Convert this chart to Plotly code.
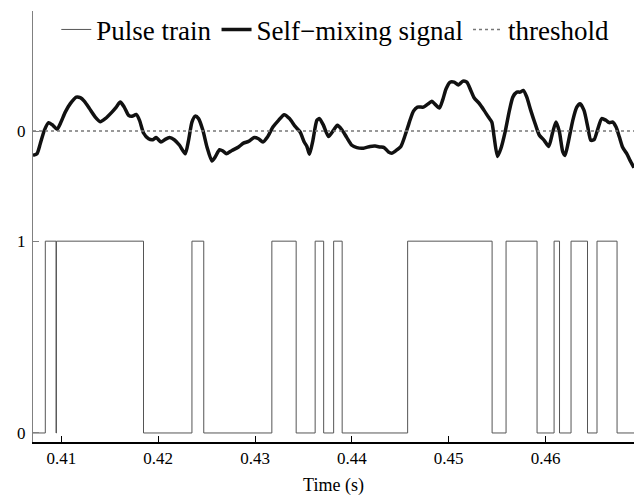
import plotly.graph_objects as go

# Pulse train: transition times (s) and level after each transition
pulse_t = [0.40708, 0.40835, 0.40946, 0.40950, 0.41849, 0.42349, 0.42471, 0.43174,
           0.43425, 0.43621, 0.43709, 0.43812, 0.43900, 0.44576, 0.45448, 0.45592,
           0.45912, 0.46088, 0.46144, 0.46263, 0.46433, 0.46531, 0.46738, 0.46913]
pulse_v = [0, 1, 0, 1, 0, 1, 0, 1, 0, 1, 0, 1, 0, 1, 0, 1, 0, 1, 0, 1, 0, 1, 0, 0]

# Self-mixing signal (time in s, amplitude relative to threshold)
sig_t = [0.40708, 0.40749, 0.40783, 0.40825, 0.40869, 0.40914, 0.40956, 0.40997,
         0.41041, 0.41093, 0.41155, 0.41196, 0.41237, 0.41292, 0.41351, 0.41402,
         0.41454, 0.41523, 0.41568, 0.41609, 0.41650, 0.41695, 0.41730, 0.41774,
         0.41808, 0.41849, 0.41901, 0.41946, 0.41980, 0.42029, 0.42073, 0.42118,
         0.42166, 0.42221, 0.42280, 0.42314, 0.42349, 0.42383, 0.42417, 0.42462,
         0.42504, 0.42555, 0.42589, 0.42634, 0.42669, 0.42703, 0.42762, 0.42830,
         0.42881, 0.42933, 0.42992, 0.43036, 0.43082, 0.43129, 0.43185, 0.43243,
         0.43301, 0.43356, 0.43415, 0.43466, 0.43508, 0.43536, 0.43562, 0.43598,
         0.43639, 0.43666, 0.43707, 0.43759, 0.43810, 0.43851, 0.43897, 0.43948,
         0.44000, 0.44052, 0.44120, 0.44189, 0.44240, 0.44292, 0.44333, 0.44378,
         0.44413, 0.44457, 0.44506, 0.44550, 0.44594, 0.44636, 0.44677, 0.44739,
         0.44780, 0.44826, 0.44860, 0.44904, 0.44939, 0.44973, 0.45014, 0.45056,
         0.45100, 0.45146, 0.45187, 0.45228, 0.45262, 0.45317, 0.45365, 0.45410,
         0.45445, 0.45469, 0.45503, 0.45538, 0.45582, 0.45627, 0.45662, 0.45703,
         0.45737, 0.45771, 0.45806, 0.45847, 0.45892, 0.45936, 0.45985, 0.46033,
         0.46074, 0.46108, 0.46143, 0.46178, 0.46201, 0.46235, 0.46281, 0.46322,
         0.46356, 0.46397, 0.46436, 0.46467, 0.46501, 0.46535, 0.46580, 0.46624,
         0.46658, 0.46694, 0.46728, 0.46762, 0.46797, 0.46838, 0.46872, 0.46913]
sig_v = [-0.127, -0.118, -0.066, 0.004, 0.044, 0.030, 0.009, 0.047,
         0.099, 0.143, 0.177, 0.174, 0.156, 0.117, 0.073, 0.049,
         0.065, 0.099, 0.125, 0.151, 0.125, 0.082, 0.077, 0.087,
         0.056, -0.010, -0.040, -0.045, -0.034, -0.057, -0.043, -0.034,
         -0.045, -0.074, -0.118, -0.048, 0.047, 0.078, 0.065, 0.004,
         -0.083, -0.156, -0.135, -0.097, -0.104, -0.118, -0.101, -0.083,
         -0.063, -0.054, -0.034, -0.040, -0.057, -0.031, 0.021, 0.056,
         0.085, 0.065, 0.024, -0.005, -0.057, -0.080, -0.121, -0.048,
         0.056, 0.065, 0.030, -0.028, 0.004, 0.030, 0.007, -0.034,
         -0.074, -0.086, -0.089, -0.080, -0.078, -0.083, -0.086, -0.109,
         -0.115, -0.101, -0.080, -0.022, 0.047, 0.104, 0.125, 0.125,
         0.139, 0.155, 0.139, 0.120, 0.164, 0.221, 0.255, 0.255,
         0.240, 0.260, 0.255, 0.212, 0.174, 0.143, 0.108, 0.073,
         0.047, -0.031, -0.132, -0.092, -0.005, 0.108, 0.177, 0.203,
         0.203, 0.212, 0.177, 0.108, 0.039, -0.022, -0.048, -0.080,
         -0.005, 0.047, -0.005, -0.109, -0.127, -0.057, 0.056, 0.125,
         0.143, 0.108, 0.021, -0.048, -0.045, 0.004, 0.065, 0.056,
         0.044, 0.047, 0.021, -0.031, -0.086, -0.118, -0.153, -0.191]

threshold = 0.0
x_range = [0.40708, 0.46913]
x_ticks = [0.41, 0.42, 0.43, 0.44, 0.45, 0.46]
x_ticktext = ["0.41", "0.42", "0.43", "0.44", "0.45", "0.46"]

SIGNAL_OFFSET = 1.574  # vertical offset of the signal above the pulse train

FONT = "Liberation Serif"

fig = go.Figure()
fig.add_trace(go.Scatter(
    x=pulse_t, y=pulse_v, mode="lines", line_shape="hv",
    line=dict(color="#555555", width=1), name="Pulse train"))
fig.add_trace(go.Scatter(
    x=sig_t, y=[v + SIGNAL_OFFSET for v in sig_v], mode="lines",
    line=dict(color="#111111", width=3.5, shape="spline", smoothing=0.6),
    name="Self\u2212mixing signal"))
fig.add_trace(go.Scatter(
    x=x_range, y=[threshold + SIGNAL_OFFSET] * 2, mode="lines",
    line=dict(color="#777777", width=1.5, dash="dot"), name="threshold"))

fig.update_layout(
    width=638, height=496,
    margin=dict(l=33, r=4, t=11, b=54),
    paper_bgcolor="white", plot_bgcolor="white",
    font=dict(family=FONT, size=16, color="black"),
    showlegend=True,
    legend=dict(orientation="h", x=0.503, xanchor="center", y=1.013, yanchor="top",
                font=dict(family=FONT, size=27, color="black"),
                bgcolor="rgba(0,0,0,0)", itemwidth=30, traceorder="normal"),
    xaxis=dict(range=x_range, tickvals=x_ticks, ticktext=x_ticktext,
               showgrid=False, zeroline=False, showline=True,
               linecolor="black", linewidth=1.5, ticks="inside", ticklen=6,
               tickcolor="black", tickfont=dict(family=FONT, size=17),
               title=dict(text="Time (s)", font=dict(family=FONT, size=18), standoff=12)),
    yaxis=dict(range=[-0.047, 2.2], tickvals=[0, 1, SIGNAL_OFFSET],
               ticktext=["0", "1", "0"], showgrid=False, zeroline=False,
               showline=True, linecolor="#808080", linewidth=1,
               ticks="inside", ticklen=6, tickcolor="#808080",
               tickfont=dict(family=FONT, size=17), ticklabelstandoff=3),
)

fig.write_html("out.html", config={"displayModeBar": False},
               post_script="document.body.style.margin='0';document.body.style.padding='0';")
